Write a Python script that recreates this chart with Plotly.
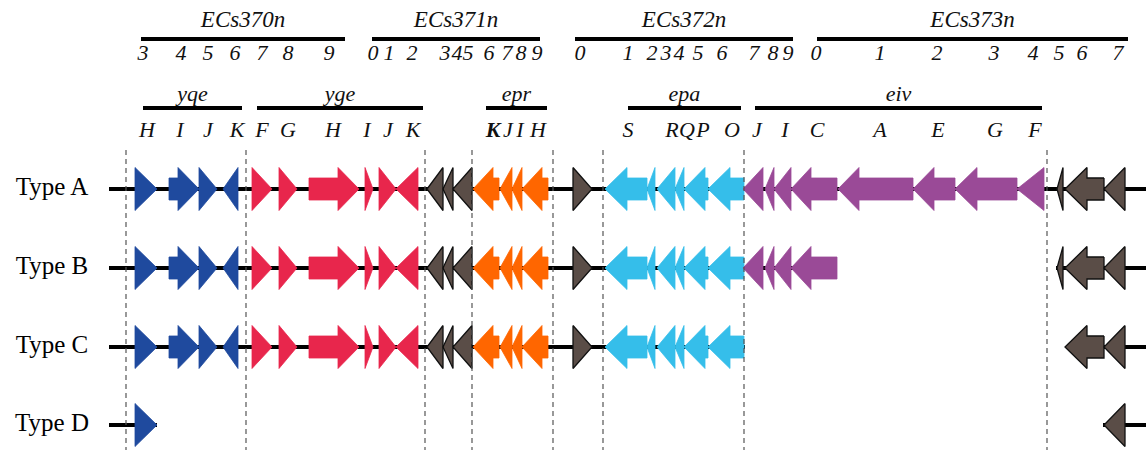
import plotly.graph_objects as go

# ---------------- data ----------------
ROW_NAMES = ["Type A", "Type B", "Type C", "Type D"]
ROW_Y = [189, 268, 347, 425]

# gene map (map units along the cluster)
GENE_FAMILY = ["yqe", "yqe", "yqe", "yqe",
               "yge", "yge", "yge", "yge", "yge", "yge",
               "other", "other", "other",
               "epr", "epr", "epr", "epr",
               "other",
               "epa", "epa", "epa", "epa", "epa", "epa",
               "eiv", "eiv", "eiv", "eiv", "eiv", "eiv", "eiv", "eiv",
               "other", "other", "other"]
GENE_START = [135, 169, 199, 223,
              252, 279, 309, 365, 379, 396,
              427, 443, 453,
              473, 500, 512, 522,
              573,
              605, 647, 657, 675, 684, 708,
              743, 765, 774, 791, 838, 913, 955, 1017,
              1057, 1065, 1104]
GENE_END = [157, 199, 217, 238,
            272, 297, 359, 373, 396, 418,
            443, 453, 472,
            499, 512, 522, 548,
            592,
            647, 655, 675, 684, 708, 744,
            763, 774, 791, 837, 913, 955, 1017, 1044,
            1063, 1104, 1125]
GENE_STRAND = [1, 1, 1, -1,
               1, 1, 1, 1, 1, -1,
               -1, -1, -1,
               -1, -1, -1, -1,
               1,
               -1, -1, -1, -1, -1, -1,
               -1, -1, -1, -1, -1, -1, -1, -1,
               -1, -1, -1]
GENE_HEAD = [0, 21, 0, 0,
             0, 0, 21, 0, 0, 0,
             0, 0, 0,
             20, 0, 0, 20,
             0,
             22, 0, 0, 0, 21, 22,
             0, 0, 0, 20, 21, 21, 22, 0,
             0, 22, 0]

ROW_GENES = {
    "Type A": list(range(35)),
    "Type B": list(range(28)) + [32, 33, 34],
    "Type C": list(range(24)) + [33, 34],
    "Type D": [0, 34],
}
ROW_BACKBONE = {
    "Type A": [(109, 1146)],
    "Type B": [(109, 837), (1056, 1146)],
    "Type C": [(109, 745), (1066, 1146)],
    "Type D": [(109, 157), (1103, 1146)],
}

BOUNDARIES = [126, 246, 425, 472, 553, 603, 744, 1047]

LOCUS_NAMES = ["ECs370n", "ECs371n", "ECs372n", "ECs373n"]
LOCUS_START = [141, 372, 575, 817]
LOCUS_END = [345, 540, 793, 1128]
LOCUS_DIGITS = ["3", "4", "5", "6", "7", "8", "9",
                "0", "1", "2", "3", "4", "5", "6", "7", "8", "9",
                "0", "1", "2", "3", "4", "5", "6", "7", "8", "9",
                "0", "1", "2", "3", "4", "5", "6", "7"]
DIGIT_X = [143, 181, 208, 235, 262, 288, 329,
           373, 389, 412, 445, 457, 468, 489, 507, 521, 537,
           580, 628, 652, 666, 679, 698, 722, 754, 773, 788,
           816, 880, 937, 994, 1033, 1059, 1082, 1118]

OPERON_NAMES = ["yqe", "yge", "epr", "epa", "eiv"]
OPERON_START = [143, 257, 486, 628, 755]
OPERON_END = [242, 423, 547, 741, 1042]
GENE_LETTERS = ["H", "I", "J", "K", "F", "G", "H", "I", "J", "K",
                "K", "J", "I", "H", "S", "R", "Q", "P", "O",
                "J", "I", "C", "A", "E", "G", "F"]
LETTER_X = [147, 180, 208, 237, 262, 288, 333, 367, 388, 413,
            493, 508, 520, 538, 628, 672, 687, 703, 732,
            757, 785, 817, 880, 938, 995, 1035]
LETTER_BOLD = [False] * 10 + [True] + [False] * 15

# ---------------- style ----------------
FAMILY_FILL = {"yqe": "#1F4A9E", "yge": "#E8264C", "other": "#5A4D47",
               "epr": "#FF6600", "epa": "#35BEEA", "eiv": "#9A4A97"}
FAMILY_LINE = {"yqe": "#1F4A9E", "yge": "#E8264C", "other": "#111111",
               "epr": "#FF6600", "epa": "#35BEEA", "eiv": "#9A4A97"}
HALF_HEAD = 21.5
HALF_BODY = 11
SERIF = "Liberation Serif, Times New Roman, serif"

fig = go.Figure()


def arrow(s, e, strand, head, y):
    length = e - s
    if head <= 0 or head >= length:
        if strand > 0:
            return [s, e, s, s], [y - HALF_HEAD, y, y + HALF_HEAD, y - HALF_HEAD]
        return [e, s, e, e], [y - HALF_HEAD, y, y + HALF_HEAD, y - HALF_HEAD]
    if strand > 0:
        hb = e - head
        xs = [s, hb, hb, e, hb, hb, s, s]
    else:
        hb = s + head
        xs = [e, hb, hb, s, hb, hb, e, e]
    ys = [y - HALF_BODY, y - HALF_BODY, y - HALF_HEAD, y,
          y + HALF_HEAD, y + HALF_BODY, y + HALF_BODY, y - HALF_BODY]
    return xs, ys


# backbones
for name, y in zip(ROW_NAMES, ROW_Y):
    bx, by = [], []
    for a, b in ROW_BACKBONE[name]:
        bx += [a, b, None]
        by += [y, y, None]
    fig.add_trace(go.Scatter(x=bx, y=by, mode="lines",
                             line=dict(color="black", width=4),
                             hoverinfo="skip", showlegend=False))

# genes
for name, y in zip(ROW_NAMES, ROW_Y):
    for fam in FAMILY_FILL:
        gx, gy = [], []
        for i in ROW_GENES[name]:
            if GENE_FAMILY[i] != fam:
                continue
            xs, ys = arrow(GENE_START[i], GENE_END[i], GENE_STRAND[i], GENE_HEAD[i], y)
            gx += xs + [None]
            gy += ys + [None]
        if not gx:
            continue
        fig.add_trace(go.Scatter(
            x=gx, y=gy, mode="lines", fill="toself",
            fillcolor=FAMILY_FILL[fam],
            line=dict(color=FAMILY_LINE[fam], width=1.3 if fam == "other" else 0.8),
            hoverinfo="skip", showlegend=False))

# dashed boundaries
dx, dy = [], []
for xb in BOUNDARIES:
    dx += [xb, xb, None]
    dy += [150, 450, None]
fig.add_trace(go.Scatter(x=dx, y=dy, mode="lines",
                         line=dict(color="#555555", width=1.2, dash="5px,4px"),
                         hoverinfo="skip", showlegend=False))

# row labels
fig.add_trace(go.Scatter(x=[52] * 4, y=ROW_Y, mode="text", text=ROW_NAMES,
                         textposition="middle center",
                         textfont=dict(family=SERIF, size=25, color="black"),
                         hoverinfo="skip", showlegend=False))

# locus bars + names + digits
lx, ly = [], []
for a, b in zip(LOCUS_START, LOCUS_END):
    lx += [a, b, None]
    ly += [39, 39, None]
fig.add_trace(go.Scatter(x=lx, y=ly, mode="lines", line=dict(color="black", width=4),
                         hoverinfo="skip", showlegend=False))
fig.add_trace(go.Scatter(x=[(a + b) / 2 for a, b in zip(LOCUS_START, LOCUS_END)],
                         y=[21] * 4, mode="text", text=LOCUS_NAMES,
                         textposition="middle center",
                         textfont=dict(family=SERIF, size=23, color="#111111", style="italic"),
                         hoverinfo="skip", showlegend=False))
fig.add_trace(go.Scatter(x=DIGIT_X, y=[54] * len(DIGIT_X), mode="text", text=LOCUS_DIGITS,
                         textposition="middle center",
                         textfont=dict(family=SERIF, size=22, color="#111111", style="italic"),
                         hoverinfo="skip", showlegend=False))

# operon bars + names + gene letters
ox, oy = [], []
for a, b in zip(OPERON_START, OPERON_END):
    ox += [a, b, None]
    oy += [108, 108, None]
fig.add_trace(go.Scatter(x=ox, y=oy, mode="lines", line=dict(color="black", width=4),
                         hoverinfo="skip", showlegend=False))
fig.add_trace(go.Scatter(x=[(a + b) / 2 for a, b in zip(OPERON_START, OPERON_END)],
                         y=[95] * len(OPERON_NAMES), mode="text", text=OPERON_NAMES,
                         textposition="middle center",
                         textfont=dict(family=SERIF, size=22, color="#111111", style="italic"),
                         hoverinfo="skip", showlegend=False))
for bold in (False, True):
    idx = [i for i, v in enumerate(LETTER_BOLD) if v == bold]
    fig.add_trace(go.Scatter(x=[LETTER_X[i] for i in idx], y=[131] * len(idx),
                             mode="text", text=[GENE_LETTERS[i] for i in idx],
                             textposition="middle center",
                             textfont=dict(family=SERIF, size=22, color="#111111",
                                           style="italic", weight="bold" if bold else "normal"),
                             hoverinfo="skip", showlegend=False))

fig.update_layout(
    width=1146, height=450,
    margin=dict(l=0, r=0, t=0, b=0),
    paper_bgcolor="white", plot_bgcolor="white",
    xaxis=dict(range=[0, 1146], visible=False, fixedrange=True),
    yaxis=dict(range=[450, 0], visible=False, fixedrange=True),
    showlegend=False,
)

fig.write_html("out.html")
